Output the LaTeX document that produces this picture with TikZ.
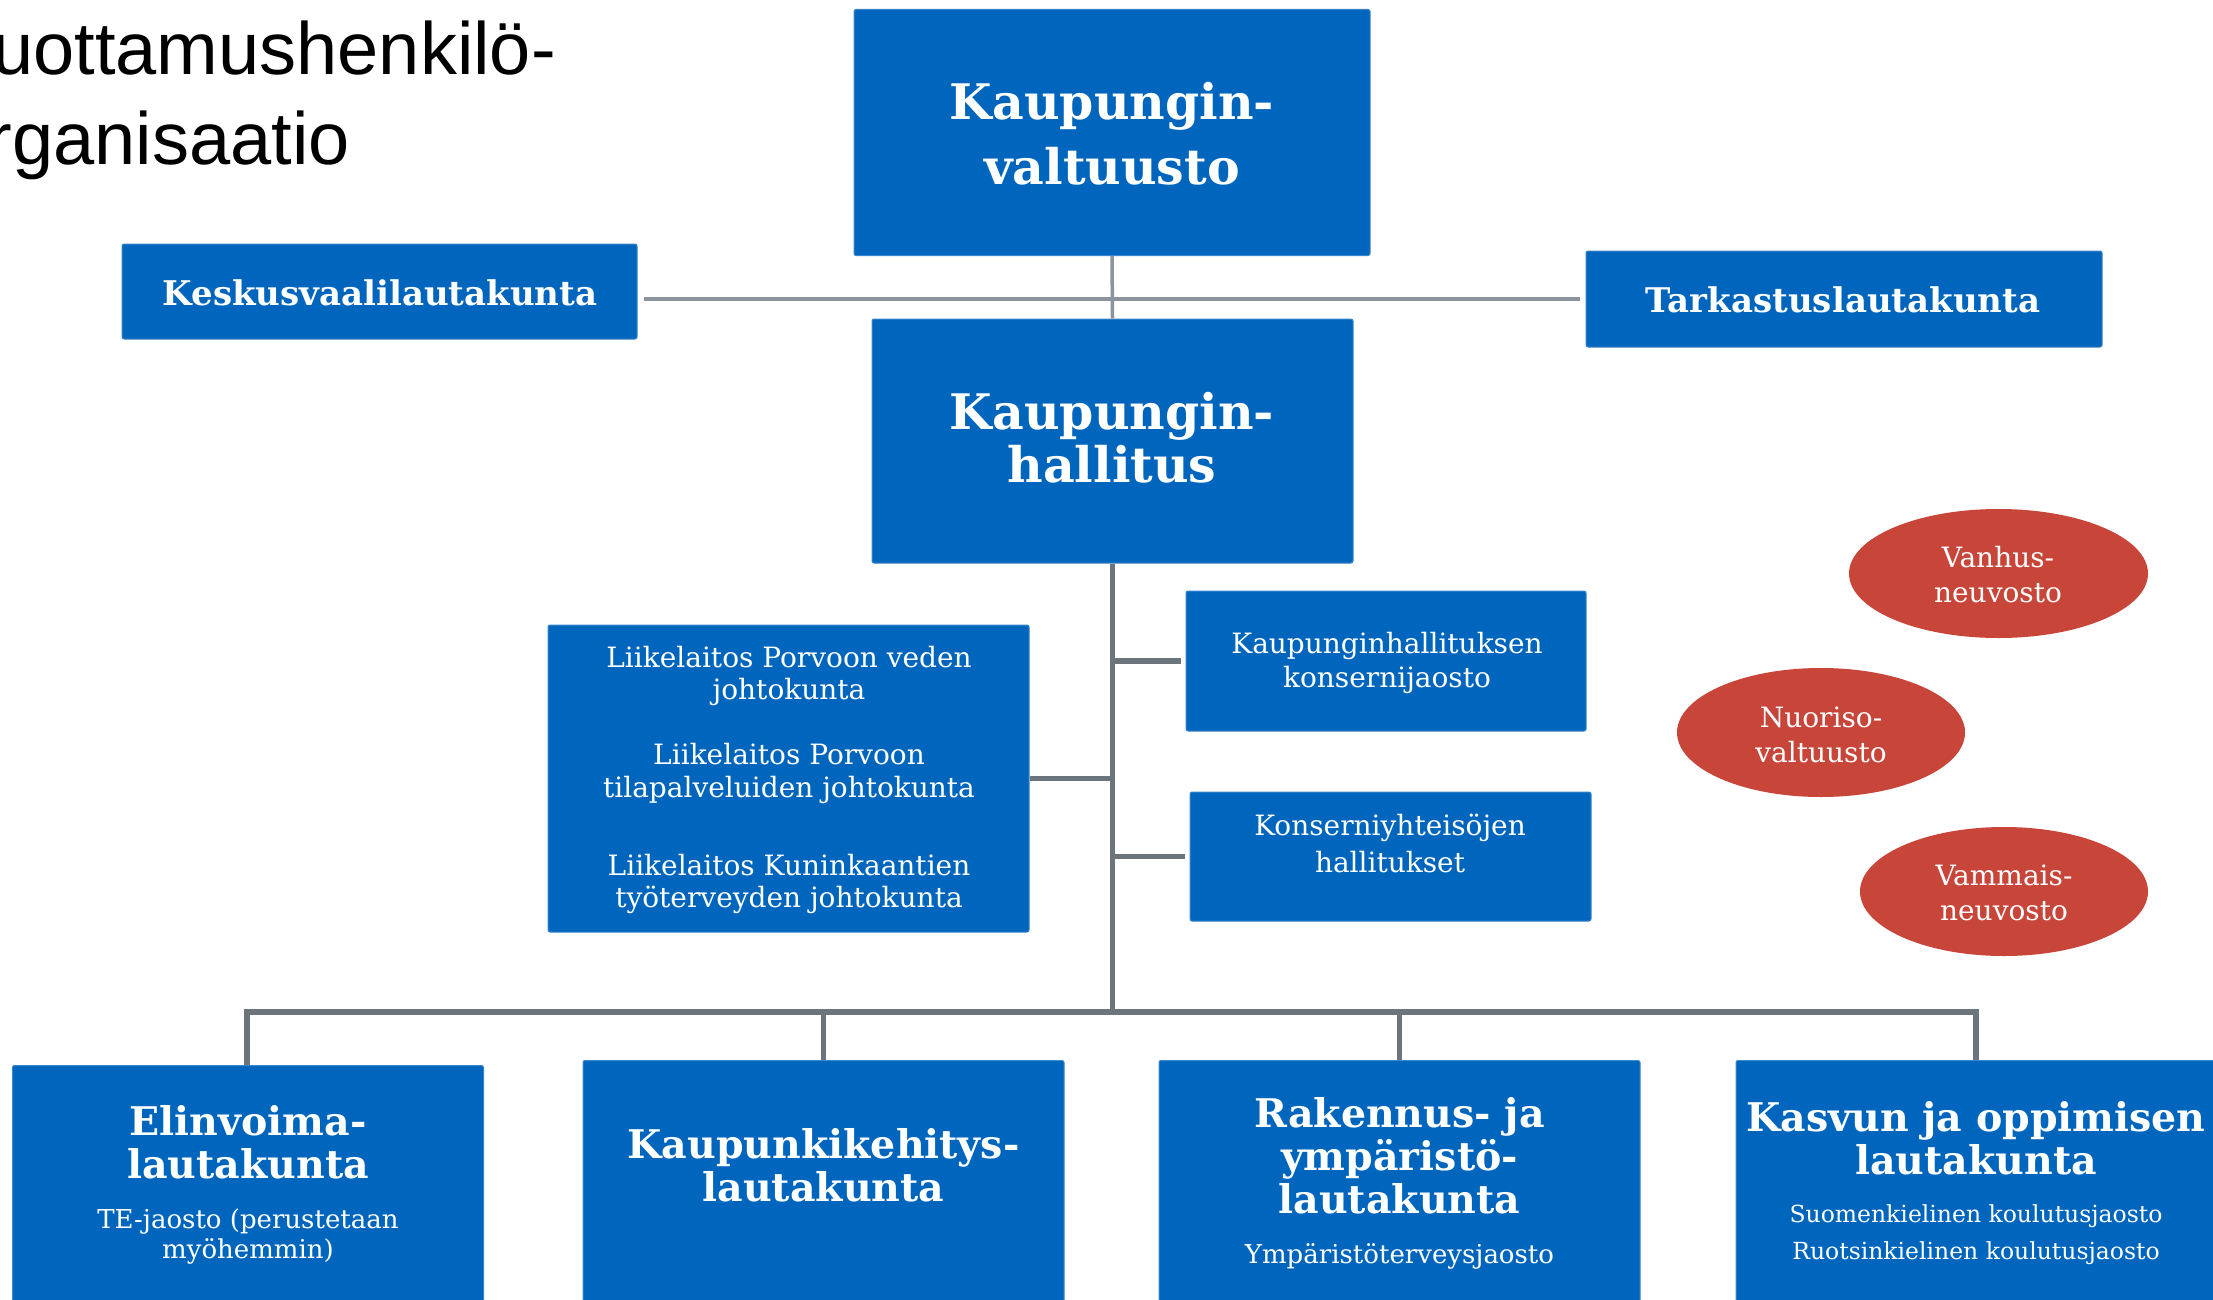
\documentclass[tikz,border=0pt]{standalone}
\usepackage{fontspec}
\setmainfont{DejaVu Serif}
\newfontfamily\titlefont{Liberation Sans}
\usetikzlibrary{shapes.geometric}
\definecolor{boxblue}{HTML}{0066BD}
\definecolor{boxedge}{HTML}{3A86CC}
\definecolor{ovalred}{HTML}{C8453A}
\definecolor{lightline}{HTML}{8C959D}
\definecolor{darkline}{HTML}{6C747C}
\begin{document}
\begin{tikzpicture}[x=1pt,y=-1pt,
  box/.style={rectangle, fill=boxblue, draw=boxedge, line width=1pt, rounded corners=2pt, inner sep=0pt},
  oval/.style={ellipse, fill=ovalred, draw=none, inner sep=0pt},
  tx/.style={text=white, inner sep=0pt, anchor=base},
  bigt/.style={tx, font=\fontsize{49}{49}\selectfont\bfseries},
  midt/.style={tx, font=\fontsize{34}{34}\selectfont\bfseries},
  lowt/.style={tx, font=\fontsize{39.5}{39.5}\selectfont\bfseries},
  subt/.style={tx, font=\fontsize{26}{26}\selectfont},
  smallsubt/.style={tx, font=\fontsize{23.5}{23.5}\selectfont},
  regt/.style={tx, font=\fontsize{28}{28}\selectfont},
  titlet/.style={inner sep=0pt, anchor=base east, text=black, font=\titlefont\fontsize{74}{74}\selectfont},
  lightconn/.style={draw=lightline, line width=3.5pt},
  darkconn/.style={draw=darkline, line width=5.5pt}
]
\clip (0,0) rectangle (2213,1300);
\fill[white] (0,0) rectangle (2213,1300);

% title
\node[titlet] (title1) at (556,75) {uottamushenkilö-};
\node[titlet] (title2) at (350,165) {rganisaatio};

% top level boxes
\node[box, minimum width=516pt, minimum height=246pt] (valt) at (1112,132.5) {};
\node[box, minimum width=515pt, minimum height=95pt] (kesk) at (379.5,291.5) {};
\node[box, minimum width=516pt, minimum height=96pt] (tark) at (1844,299) {};
\node[box, minimum width=481pt, minimum height=244pt] (hall) at (1112.5,441) {};

% middle boxes
\node[box, minimum width=481pt, minimum height=307pt] (liike) at (788.5,778.5) {};
\node[box, minimum width=400pt, minimum height=140pt] (jaos) at (1386,661) {};
\node[box, minimum width=401pt, minimum height=129pt] (yht) at (1390.5,856.5) {};

% ellipses
\node[oval, minimum width=299pt, minimum height=129pt] (vanh) at (1998.5,573.5) {};
\node[oval, minimum width=288pt, minimum height=129pt] (nuor) at (1821,732.5) {};
\node[oval, minimum width=288pt, minimum height=129pt] (vamm) at (2004,891.5) {};

% bottom boxes
\node[box, minimum width=471pt, minimum height=300pt, anchor=north] (elin) at (248,1065) {};
\node[box, minimum width=481pt, minimum height=300pt, anchor=north] (kaup) at (823.5,1060) {};
\node[box, minimum width=481pt, minimum height=300pt, anchor=north] (rak) at (1399.5,1060) {};
\node[box, minimum width=481pt, minimum height=300pt, anchor=north] (kasv) at (1976.5,1060) {};

% connectors
\coordinate (busL) at (247,1012);
\coordinate (busR) at (1976,1012);
\draw[lightconn] (valt.south) -- (hall.north);
\draw[lightconn] ([xshift=6pt]kesk.east |- tark.west) -- ([xshift=-6pt]tark.west);
\draw[darkconn] (hall.south) -- (hall.south |- busL);
\draw[darkconn] (hall.south |- jaos.west) -- ([xshift=-5pt]jaos.west);
\draw[darkconn] (hall.south |- yht.west) -- ([xshift=-5pt]yht.west);
\draw[darkconn] (liike.east) -- (hall.south |- liike.east);
\draw[darkconn, line cap=rect] (busL) -- (busR);
\draw[darkconn] (busL) -- (busL |- elin.north);
\draw[darkconn] (kaup.north |- busL) -- (kaup.north);
\draw[darkconn] (rak.north |- busL) -- (rak.north);
\draw[darkconn] (busR) -- (busR |- kasv.north);

% texts
\node[bigt] (valt1) at (1112,120) {Kaupungin-};
\node[bigt] (valt2) at (1112,185) {valtuusto};
\node[midt] (kesk1) at (380,305) {Keskusvaalilautakunta};
\node[midt] (tark1) at (1843,312) {Tarkastuslautakunta};
\node[bigt] (hall1) at (1112,429) {Kaupungin-};
\node[bigt] (hall2) at (1112,482) {hallitus};

\node[regt] (li1) at (789,667) {Liikelaitos Porvoon veden};
\node[regt] (li2) at (789,699) {johtokunta};
\node[regt] (li3) at (789,764) {Liikelaitos Porvoon};
\node[regt] (li4) at (789,797) {tilapalveluiden johtokunta};
\node[regt] (li5) at (789,875) {Liikelaitos Kuninkaantien};
\node[regt] (li6) at (789,907) {työterveyden johtokunta};

\node[regt] (ja1) at (1387,653) {Kaupunginhallituksen};
\node[regt] (ja2) at (1387,687) {konsernijaosto};
\node[regt] (yh1) at (1390,835) {Konserniyhteisöjen};
\node[regt] (yh2) at (1390,872) {hallitukset};

\node[regt] (va1) at (1998,567) {Vanhus-};
\node[regt] (va2) at (1998,602) {neuvosto};
\node[regt] (nu1) at (1821,727) {Nuoriso-};
\node[regt] (nu2) at (1821,762) {valtuusto};
\node[regt] (vm1) at (2004,885) {Vammais-};
\node[regt] (vm2) at (2004,920) {neuvosto};

\node[lowt] (el1) at (248,1135) {Elinvoima-};
\node[lowt] (el2) at (248,1178) {lautakunta};
\node[subt] (el3) at (248,1228) {TE-jaosto (perustetaan};
\node[subt] (el4) at (248,1258) {myöhemmin)};

\node[lowt] (ka1) at (823.5,1158) {Kaupunkikehitys-};
\node[lowt] (ka2) at (823.5,1201) {lautakunta};

\node[lowt] (ra1) at (1399.5,1127) {Rakennus- ja};
\node[lowt] (ra2) at (1399.5,1170) {ympäristö-};
\node[lowt] (ra3) at (1399.5,1213) {lautakunta};
\node[subt] (ra4) at (1399.5,1263) {Ympäristöterveysjaosto};

\node[lowt] (ks1) at (1976,1131) {Kasvun ja oppimisen};
\node[lowt] (ks2) at (1976,1174) {lautakunta};
\node[smallsubt] (ks3) at (1976,1222) {Suomenkielinen koulutusjaosto};
\node[smallsubt] (ks4) at (1976,1259) {Ruotsinkielinen koulutusjaosto};
\end{tikzpicture}
\end{document}
